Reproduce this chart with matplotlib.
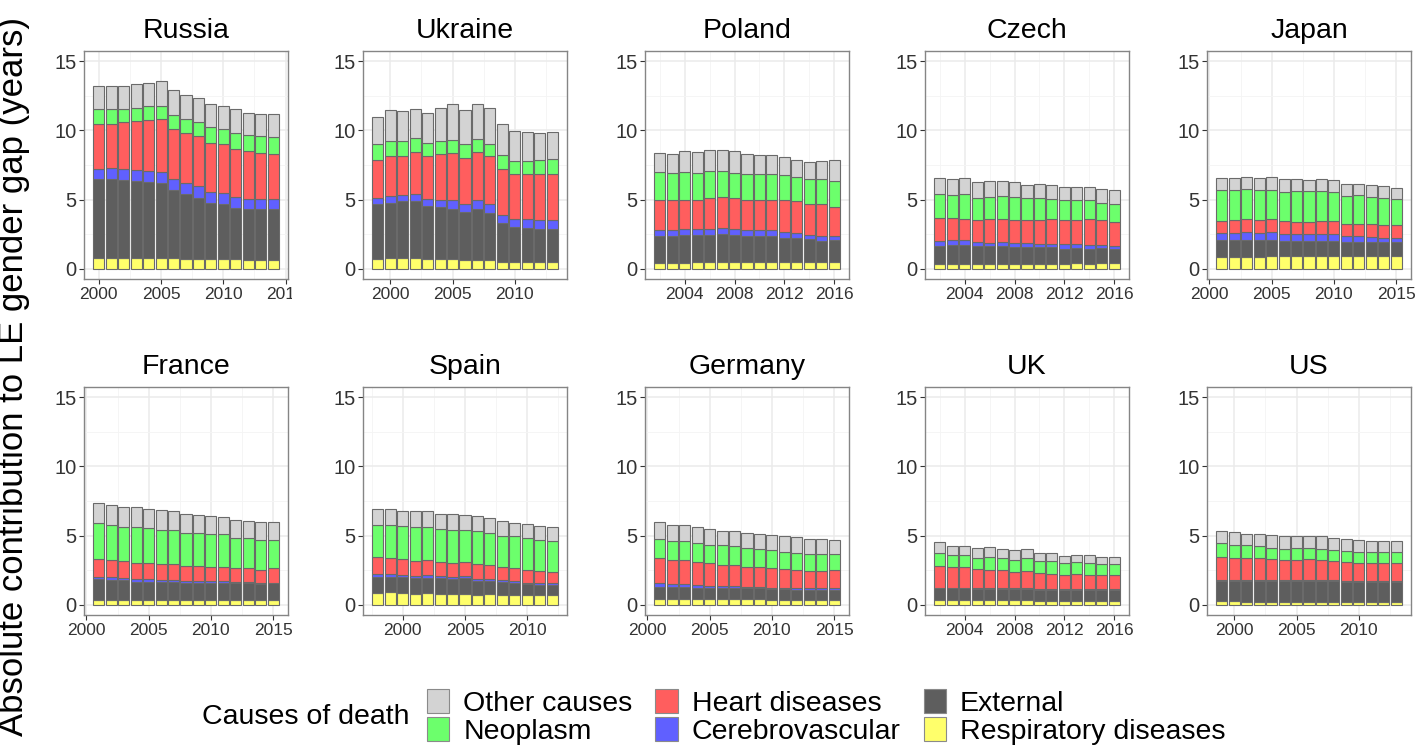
import numpy as np
import matplotlib
matplotlib.use('Agg')
import matplotlib.pyplot as plt
from matplotlib.patches import Patch
from matplotlib.ticker import MultipleLocator
from matplotlib.transforms import Bbox, TransformedBbox

plt.rcParams['font.family'] = ['Liberation Sans', 'DejaVu Sans']

countries = ['Russia', 'Ukraine', 'Poland', 'Czech', 'Japan',
             'France', 'Spain', 'Germany', 'UK', 'US']
first_year = [2000, 1999, 2002, 2002, 2001, 2001, 1998, 2001, 2002, 1999]
tick_step = [5, 5, 4, 4, 5, 5, 5, 5, 4, 5]

# stacking order, bottom to top
causes = ['Respiratory diseases', 'External', 'Cerebrovascular',
          'Heart diseases', 'Neoplasm', 'Other causes']
colors = ['#FFFF6B', '#5E5E5E', '#6060FF', '#FF5E5E', '#6CFF6C', '#D3D3D3']

# contribution (years) per cause, rows follow `causes`
russia = [
    [0.80, 0.80, 0.80, 0.80, 0.80, 0.80, 0.75, 0.70, 0.70, 0.70, 0.70, 0.70, 0.65, 0.65, 0.65],
    [5.66, 5.66, 5.59, 5.52, 5.47, 5.40, 4.92, 4.73, 4.44, 4.07, 3.95, 3.71, 3.64, 3.64, 3.64],
    [0.77, 0.82, 0.80, 0.79, 0.80, 0.79, 0.84, 0.79, 0.82, 0.78, 0.82, 0.77, 0.77, 0.73, 0.77],
    [3.21, 3.21, 3.42, 3.57, 3.71, 3.84, 3.62, 3.59, 3.66, 3.54, 3.52, 3.50, 3.45, 3.35, 3.26],
    [1.09, 1.04, 0.96, 0.97, 0.96, 0.91, 1.01, 1.04, 0.99, 1.16, 1.11, 1.16, 1.14, 1.20, 1.20],
    [1.71, 1.71, 1.67, 1.68, 1.72, 1.84, 1.76, 1.69, 1.76, 1.69, 1.69, 1.73, 1.64, 1.64, 1.69],
]
ukraine = [
    [0.72, 0.80, 0.75, 0.75, 0.70, 0.70, 0.70, 0.60, 0.65, 0.60, 0.50, 0.45, 0.45, 0.45, 0.45],
    [3.93, 3.97, 4.12, 4.17, 3.83, 3.76, 3.64, 3.50, 3.64, 3.43, 2.80, 2.56, 2.52, 2.42, 2.42],
    [0.49, 0.49, 0.48, 0.51, 0.49, 0.53, 0.60, 0.55, 0.65, 0.62, 0.61, 0.61, 0.60, 0.63, 0.63],
    [2.75, 2.89, 2.80, 3.01, 3.13, 3.33, 3.45, 3.38, 3.50, 3.50, 3.32, 3.25, 3.25, 3.32, 3.32],
    [1.10, 1.06, 1.06, 1.01, 0.97, 0.92, 0.89, 1.01, 0.92, 0.89, 0.97, 0.92, 0.97, 1.07, 1.14],
    [1.98, 2.24, 2.19, 2.12, 2.14, 2.41, 2.61, 2.46, 2.53, 2.61, 2.29, 2.17, 2.07, 1.95, 1.90],
]
poland = [
    [0.40, 0.40, 0.40, 0.45, 0.45, 0.50, 0.45, 0.45, 0.45, 0.45, 0.45, 0.50, 0.45, 0.45, 0.50],
    [1.94, 1.94, 2.01, 2.01, 2.01, 2.03, 1.96, 1.94, 1.89, 1.94, 1.79, 1.74, 1.67, 1.55, 1.55],
    [0.48, 0.43, 0.44, 0.41, 0.43, 0.41, 0.48, 0.43, 0.43, 0.38, 0.41, 0.36, 0.34, 0.36, 0.34],
    [2.17, 2.22, 2.14, 2.12, 2.25, 2.24, 2.25, 2.17, 2.22, 2.22, 2.34, 2.30, 2.19, 2.29, 2.07],
    [2.00, 1.93, 2.00, 1.93, 1.90, 1.86, 1.80, 1.88, 1.88, 1.88, 1.76, 1.73, 1.81, 1.81, 1.86],
    [1.38, 1.35, 1.50, 1.52, 1.52, 1.57, 1.55, 1.45, 1.38, 1.33, 1.33, 1.26, 1.26, 1.30, 1.52],
]
czech = [
    [0.30, 0.30, 0.30, 0.30, 0.30, 0.30, 0.30, 0.35, 0.35, 0.30, 0.30, 0.40, 0.35, 0.40, 0.40],
    [1.32, 1.39, 1.39, 1.32, 1.32, 1.34, 1.27, 1.22, 1.22, 1.25, 1.15, 1.12, 1.10, 1.10, 1.05],
    [0.38, 0.41, 0.36, 0.31, 0.26, 0.26, 0.29, 0.29, 0.24, 0.26, 0.31, 0.26, 0.29, 0.24, 0.21],
    [1.67, 1.57, 1.57, 1.61, 1.69, 1.72, 1.68, 1.64, 1.73, 1.81, 1.74, 1.72, 1.83, 1.80, 1.72],
    [1.76, 1.68, 1.81, 1.60, 1.61, 1.61, 1.64, 1.61, 1.57, 1.44, 1.44, 1.44, 1.37, 1.23, 1.27],
    [1.13, 1.11, 1.13, 1.13, 1.14, 1.09, 1.09, 0.92, 1.04, 1.02, 0.97, 0.97, 0.97, 0.97, 1.02],
]
japan = [
    [0.84, 0.85, 0.87, 0.87, 0.88, 0.88, 0.88, 0.88, 0.88, 0.88, 0.90, 0.90, 0.90, 0.90, 0.90],
    [1.21, 1.20, 1.18, 1.18, 1.17, 1.12, 1.12, 1.12, 1.12, 1.12, 1.03, 1.03, 1.03, 1.00, 1.00],
    [0.55, 0.55, 0.60, 0.55, 0.60, 0.53, 0.48, 0.48, 0.53, 0.53, 0.41, 0.41, 0.36, 0.34, 0.32],
    [0.85, 0.90, 0.97, 0.90, 0.97, 0.92, 0.90, 0.90, 0.92, 0.90, 0.92, 0.92, 0.92, 0.95, 0.91],
    [2.26, 2.21, 2.17, 2.21, 2.09, 2.10, 2.21, 2.21, 2.14, 2.12, 2.00, 2.04, 1.97, 1.92, 1.89],
    [0.87, 0.87, 0.84, 0.87, 0.92, 0.94, 0.87, 0.80, 0.87, 0.84, 0.84, 0.80, 0.85, 0.85, 0.84],
]
france = [
    [0.36, 0.36, 0.36, 0.33, 0.35, 0.33, 0.33, 0.33, 0.33, 0.33, 0.33, 0.30, 0.30, 0.30, 0.30],
    [1.53, 1.43, 1.43, 1.32, 1.32, 1.32, 1.32, 1.27, 1.27, 1.27, 1.27, 1.25, 1.23, 1.18, 1.23],
    [0.14, 0.21, 0.17, 0.19, 0.22, 0.12, 0.12, 0.12, 0.12, 0.12, 0.12, 0.12, 0.12, 0.12, 0.07],
    [1.30, 1.23, 1.20, 1.20, 1.10, 1.15, 1.15, 1.08, 1.08, 1.03, 1.03, 1.01, 1.03, 0.91, 1.03],
    [2.58, 2.56, 2.44, 2.56, 2.56, 2.51, 2.51, 2.39, 2.39, 2.37, 2.37, 2.15, 2.15, 2.20, 2.08],
    [1.48, 1.43, 1.43, 1.43, 1.39, 1.39, 1.36, 1.36, 1.27, 1.32, 1.22, 1.32, 1.25, 1.25, 1.25],
]
spain = [
    [0.84, 0.89, 0.84, 0.77, 0.84, 0.77, 0.77, 0.80, 0.72, 0.77, 0.72, 0.72, 0.69, 0.69, 0.69],
    [1.19, 1.14, 1.19, 1.14, 1.12, 1.14, 1.07, 1.11, 1.00, 0.95, 0.93, 0.88, 0.79, 0.75, 0.75],
    [0.17, 0.17, 0.12, 0.17, 0.17, 0.17, 0.16, 0.17, 0.17, 0.17, 0.14, 0.12, 0.12, 0.11, 0.10],
    [1.24, 1.20, 1.18, 1.08, 1.10, 1.01, 1.04, 1.03, 1.03, 0.98, 0.96, 0.96, 0.91, 0.89, 0.85],
    [2.30, 2.34, 2.34, 2.46, 2.39, 2.39, 2.39, 2.27, 2.39, 2.32, 2.25, 2.27, 2.32, 2.27, 2.25],
    [1.17, 1.17, 1.12, 1.13, 1.13, 1.07, 1.12, 1.13, 1.08, 1.08, 1.08, 0.96, 1.03, 0.96, 0.96],
]
germany = [
    [0.41, 0.41, 0.41, 0.40, 0.40, 0.38, 0.40, 0.38, 0.38, 0.36, 0.36, 0.35, 0.35, 0.33, 0.35],
    [0.88, 0.88, 0.88, 0.84, 0.84, 0.79, 0.77, 0.79, 0.79, 0.76, 0.76, 0.73, 0.73, 0.75, 0.73],
    [0.24, 0.19, 0.19, 0.20, 0.12, 0.15, 0.15, 0.12, 0.12, 0.12, 0.12, 0.12, 0.09, 0.09, 0.09],
    [1.82, 1.73, 1.75, 1.65, 1.63, 1.55, 1.53, 1.44, 1.44, 1.44, 1.32, 1.29, 1.27, 1.27, 1.32],
    [1.41, 1.43, 1.41, 1.38, 1.36, 1.41, 1.38, 1.34, 1.31, 1.27, 1.27, 1.27, 1.20, 1.20, 1.15],
    [1.20, 1.10, 1.10, 1.15, 1.15, 1.08, 1.13, 1.12, 1.10, 1.12, 1.12, 1.12, 1.12, 1.12, 1.07],
]
uk = [
    [0.33, 0.30, 0.30, 0.30, 0.30, 0.30, 0.30, 0.30, 0.28, 0.28, 0.28, 0.28, 0.25, 0.25, 0.25],
    [0.84, 0.87, 0.87, 0.82, 0.82, 0.82, 0.82, 0.82, 0.80, 0.80, 0.80, 0.80, 0.83, 0.80, 0.80],
    [0.07, 0.07, 0.07, 0.07, 0.07, 0.07, 0.07, 0.07, 0.07, 0.07, 0.07, 0.07, 0.07, 0.07, 0.07],
    [1.56, 1.49, 1.49, 1.37, 1.32, 1.30, 1.20, 1.25, 1.12, 1.10, 1.00, 1.05, 1.00, 1.01, 1.01],
    [0.91, 0.86, 0.86, 0.84, 0.96, 0.86, 0.84, 0.91, 0.89, 0.91, 0.84, 0.89, 0.89, 0.84, 0.84],
    [0.81, 0.64, 0.64, 0.71, 0.69, 0.69, 0.72, 0.65, 0.60, 0.55, 0.53, 0.50, 0.52, 0.50, 0.50],
]
us = [
    [0.29, 0.24, 0.22, 0.20, 0.20, 0.20, 0.20, 0.20, 0.20, 0.20, 0.18, 0.18, 0.18, 0.18, 0.18],
    [1.43, 1.48, 1.50, 1.52, 1.52, 1.52, 1.52, 1.52, 1.52, 1.52, 1.49, 1.49, 1.49, 1.49, 1.49],
    [0.04, 0.04, 0.04, 0.04, 0.04, 0.04, 0.04, 0.04, 0.04, 0.04, 0.04, 0.04, 0.04, 0.04, 0.04],
    [1.68, 1.64, 1.59, 1.59, 1.57, 1.45, 1.47, 1.52, 1.45, 1.40, 1.38, 1.33, 1.33, 1.28, 1.33],
    [0.99, 0.91, 0.93, 0.88, 0.78, 0.83, 0.88, 0.79, 0.83, 0.79, 0.79, 0.79, 0.76, 0.81, 0.76],
    [0.93, 0.93, 0.86, 0.89, 0.96, 0.96, 0.89, 0.88, 0.91, 0.88, 0.88, 0.84, 0.84, 0.84, 0.84],
]
all_data = [russia, ukraine, poland, czech, japan, france, spain, germany, uk, us]

W, H = 1415, 748
fig = plt.figure(figsize=(W / 100, H / 100), dpi=100)

col_left = [84, 363, 645, 925, 1207]
row_top = [51, 387]
panel_w, panel_h = 204, 228

for i, (name, data) in enumerate(zip(countries, all_data)):
    r, c = divmod(i, 5)
    l, t = col_left[c], row_top[r]
    ax = fig.add_axes([l / W, 1 - (t + panel_h) / H, panel_w / W, panel_h / H])
    years = np.arange(first_year[i], first_year[i] + len(data[0]))
    bottom = np.zeros(len(years))
    for vals, col in zip(data, colors):
        ax.bar(years, vals, width=0.9, bottom=bottom, color=col,
               edgecolor='#6a6a6a', linewidth=0.8, zorder=3)
        bottom += np.array(vals)

    pad = 0.45 + 0.05 * (years[-1] - years[0] + 0.9)
    ax.set_xlim(years[0] - pad, years[-1] + pad)
    ax.set_ylim(-0.75, 15.75)
    step = tick_step[i]
    ax.xaxis.set_major_locator(MultipleLocator(step))
    ax.xaxis.set_minor_locator(MultipleLocator(step / 2))
    ax.yaxis.set_major_locator(MultipleLocator(5))
    ax.yaxis.set_minor_locator(MultipleLocator(2.5))
    ax.grid(which='major', color='#EBEBEB', linewidth=1.1, zorder=0)
    ax.grid(which='minor', color='#F4F4F4', linewidth=0.6, zorder=0)
    ax.set_axisbelow(True)
    ax.tick_params(which='minor', length=0)
    ax.tick_params(axis='x', labelsize=12.5, length=3.5, width=0.8,
                   color='#333333', labelcolor='#333333', pad=2)
    ax.tick_params(axis='y', labelsize=14.5, length=3.5, width=0.8,
                   color='#333333', labelcolor='#333333', pad=2)
    for sp in ax.spines.values():
        sp.set_color('#858585')
        sp.set_linewidth(1.0)
    ax.set_title(name, fontsize=20.5, pad=9)

    # clip overhanging year labels at the panel edge
    clip = TransformedBbox(Bbox.from_extents((l - 60) / W, 0, (l + panel_w + 4) / W, 1),
                           fig.transFigure)
    for lab in ax.get_xticklabels():
        lab.set_clip_box(clip)
        lab.set_clip_on(True)

fig.text(14 / W, 1 - 377 / H, 'Absolute contribution to LE gender gap (years)',
         rotation=90, ha='center', va='center', fontsize=25)

legend_order = [5, 4, 3, 2, 1, 0]
handles = [Patch(facecolor=colors[k], edgecolor='#8a8a8a', linewidth=0.8) for k in legend_order]
labels = [causes[k] for k in legend_order]
fig.text(202 / W, 1 - 717 / H, 'Causes of death', ha='left', va='center', fontsize=20.5)
fig.legend(handles, labels, ncol=3, loc='center left',
           bbox_to_anchor=(427 / W, 1 - 717 / H), frameon=False, fontsize=20.5,
           handlelength=0.78, handleheight=0.9, handletextpad=0.5,
           columnspacing=0.8, labelspacing=0.0, borderpad=0, borderaxespad=0)

fig.savefig('out.png', dpi=100)
